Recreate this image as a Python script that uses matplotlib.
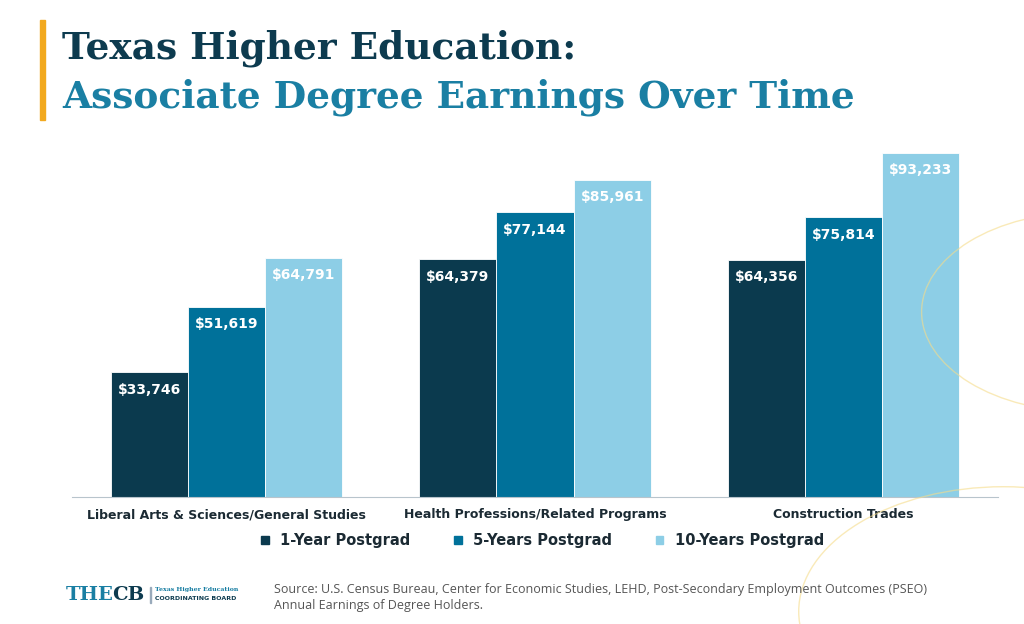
import matplotlib
matplotlib.use("Agg")
import matplotlib.pyplot as plt
from matplotlib.patches import Rectangle, Circle
import numpy as np

categories = ["Liberal Arts & Sciences/General Studies", "Health Professions/Related Programs", "Construction Trades"]
series_names = ["1-Year Postgrad", "5-Years Postgrad", "10-Years Postgrad"]
year1 = [33746, 64379, 64356]
year5 = [51619, 77144, 75814]
year10 = [64791, 85961, 93233]
colors = ["#0b3a4e", "#00719a", "#8dcee6"]

fig = plt.figure(figsize=(10.24, 6.24), dpi=100)
fig.patch.set_facecolor("white")

for r, c in [(0.16, (1.06, 0.50)), (0.2, (0.98, 0.02))]:
    fig.add_artist(Circle(c, r, transform=fig.transFigure, fill=False, ec="#f6dc8a", lw=1, alpha=0.6))

ax = fig.add_axes([72/1024, 1-497/624, 926/1024, 369/624])
x = np.arange(len(categories))
w = 0.25
for i, (vals, col) in enumerate(zip([year1, year5, year10], colors)):
    bars = ax.bar(x + (i-1)*w, vals, w, color=col, label=series_names[i], zorder=2,
                  edgecolor="white", linewidth=0.6)
    for b, v in zip(bars, vals):
        ax.text(b.get_x()+b.get_width()/2, v - 2800, f"${v:,}", ha="center", va="top",
                color="white", fontsize=10, fontweight="bold")
ax.set_xlim(-0.5, 2.5)
ax.set_ylim(0, 100000)
ax.set_yticks([])
ax.set_xticks(x)
ax.set_xticklabels(categories, fontsize=9, fontweight="bold", color="#1b2a33")
ax.tick_params(axis="x", length=0, pad=8)
for s in ["top", "right", "left"]:
    ax.spines[s].set_visible(False)
ax.spines["bottom"].set_color("#b8c4cc")
ax.set_facecolor("none")

handles = [Rectangle((0, 0), 1, 1, color=c) for c in colors]
leg = fig.legend(handles, series_names, loc="center", bbox_to_anchor=(0.53, 1-541/624), ncol=3,
           frameon=False, handlelength=0.5, handleheight=0.5,
           columnspacing=3.0, prop={"weight": "bold", "size": 10.5})
for t in leg.get_texts():
    t.set_color("#1b2a33")

fig.add_artist(Rectangle((40/1024, 1-120/624), 5/1024, 100/624, transform=fig.transFigure, color="#f2a91f"))
fig.text(62/1024, 1-48/624, "Texas Higher Education:", fontsize=27, fontweight="heavy",
         family="DejaVu Serif", color="#0d3b4f", va="center")
fig.text(62/1024, 1-97/624, "Associate Degree Earnings Over Time", fontsize=27, fontweight="heavy",
         family="DejaVu Serif", color="#1a7fa3", va="center")

fig.text(66/1024, 1-595/624, "THE", fontsize=14, fontweight="bold", family="DejaVu Serif",
         color="#1a7fa3", va="center")
fig.text(112/1024, 1-595/624, "CB", fontsize=14, fontweight="bold", family="DejaVu Serif",
         color="#0d3b4f", va="center")
fig.add_artist(Rectangle((150/1024, 1-603/624), 1/1024, 16/624, transform=fig.transFigure, color="#9ab"))
fig.text(155/1024, 1-590/624, "Texas Higher Education", fontsize=4.5, fontweight="bold",
         family="DejaVu Serif", color="#1a7fa3", va="center")
fig.text(155/1024, 1-599/624, "COORDINATING BOARD", fontsize=4.5, fontweight="bold",
         color="#0d3b4f", va="center")
fig.text(274/1024, 1-590/624, "Source: U.S. Census Bureau, Center for Economic Studies, LEHD, Post-Secondary Employment Outcomes (PSEO)",
         fontsize=9, family="Open Sans", color="#555555", va="center")
fig.text(274/1024, 1-606/624, "Annual Earnings of Degree Holders.",
         fontsize=9, family="Open Sans", color="#555555", va="center")

fig.savefig("out.png", dpi=100)
